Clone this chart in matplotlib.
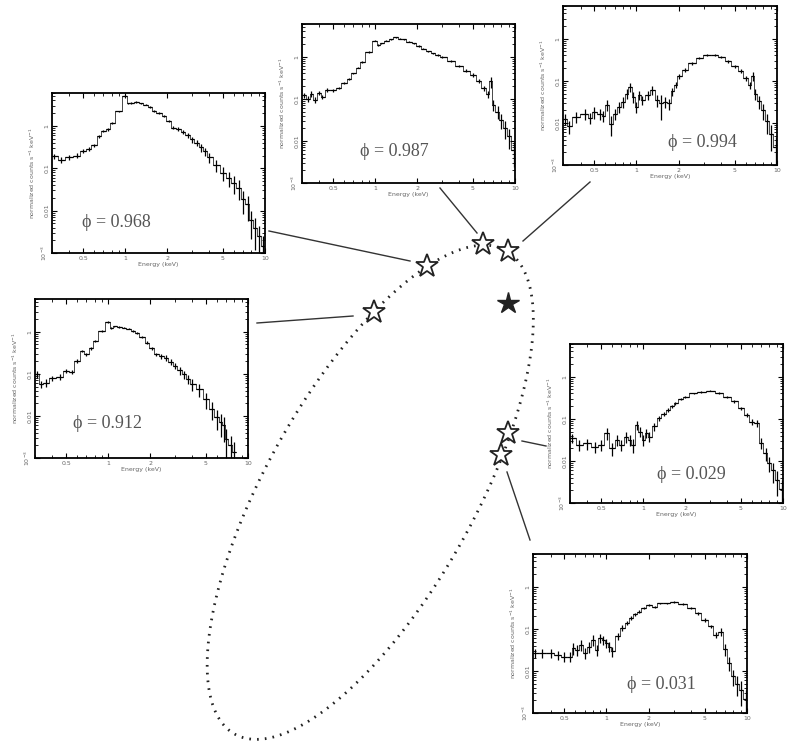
import numpy as np
import matplotlib.pyplot as plt
from matplotlib.ticker import NullFormatter

# orbital phases shown in the insets
phases = ['0.968', '0.987', '0.994', '0.912', '0.029', '0.031']

# star positions on the orbit sketch (pixel frame of the figure)
star_x = [427, 483, 508, 374, 508, 501]
star_y = [266, 244, 251, 312, 433, 455]
companion_x = [508]
companion_y = [303]

# points traced along the dotted orbit
orbit_x = [280, 257, 233, 218, 210, 207, 210, 223, 253, 300, 340, 377, 390, 437, 463, 487, 520,
           527, 532, 532, 528, 522, 350, 390]
orbit_y = [440, 490, 540, 590, 627, 667, 700, 723, 738, 730, 697, 660, 643, 577, 547, 500, 400,
           367, 333, 300, 287, 263, 340, 293]

# connector lines: star end -> inset end
link_x0 = [410, 477, 523, 353, 522, 507]
link_y0 = [261, 233, 241, 316, 441, 472]
link_x1 = [269, 440, 590, 257, 546, 530]
link_y1 = [231, 188, 182, 323, 446, 540]

# spectra, phase 0.968
e_968 = [0.31, 0.35, 0.4, 0.45, 0.5, 0.55, 0.6, 0.65, 0.7, 0.75, 0.8, 0.9, 1.0, 1.05, 1.1, 1.2, 1.3,
         1.4, 1.5, 1.6, 1.75, 1.9, 2.05, 2.2, 2.4, 2.6, 2.8, 3.0, 3.25, 3.5, 3.75, 4.0, 4.5, 5.0,
         5.5, 6.0, 6.5, 7.0, 7.5, 8.0, 8.5, 9.0, 9.7]
f_968 = [0.19, 0.16, 0.18, 0.2, 0.26, 0.29, 0.35, 0.58, 0.75, 0.83, 1.2, 2.2, 5.2, 3.4, 3.5, 3.7, 3.4,
         3.2, 2.8, 2.3, 2.0, 1.7, 1.3, 0.91, 0.85, 0.72, 0.6, 0.48, 0.4, 0.31, 0.25, 0.18, 0.12, 0.079,
         0.06, 0.046, 0.035, 0.019, 0.014, 0.006, 0.004, 0.0025, 0.0015]
r_968 = [0.15, 0.15, 0.12, 0.12, 0.1, 0.1, 0.1, 0.08, 0.06, 0.06, 0.05, 0.04, 0.04, 0.04, 0.04, 0.04, 0.04,
         0.04, 0.05, 0.05, 0.05, 0.06, 0.07, 0.08, 0.1, 0.12, 0.14, 0.16, 0.18, 0.2, 0.22, 0.25, 0.3, 0.35,
         0.4, 0.45, 0.5, 0.55, 0.6, 0.65, 0.7, 0.7, 0.7]

# spectra, phase 0.987
e_987 = [0.31, 0.33, 0.35, 0.37, 0.4, 0.42, 0.45, 0.5, 0.55, 0.6, 0.65, 0.7, 0.75, 0.8, 0.9, 1.0, 1.05,
         1.1, 1.2, 1.3, 1.4, 1.5, 1.6, 1.75, 1.9, 2.05, 2.2, 2.4, 2.6, 2.8, 3.0, 3.5, 4.0, 4.5, 5.0,
         5.5, 6.0, 6.4, 6.7, 7.0, 7.5, 8.0, 8.5, 9.0, 9.8]
f_987 = [0.12, 0.1, 0.13, 0.095, 0.14, 0.11, 0.16, 0.16, 0.18, 0.235, 0.3, 0.4, 0.55, 0.76, 1.3, 2.4, 1.9,
         2.1, 2.4, 2.6, 2.9, 2.7, 2.6, 2.3, 2.1, 1.8, 1.57, 1.35, 1.2, 1.1, 1.0, 0.8, 0.6, 0.47, 0.37,
         0.27, 0.18, 0.13, 0.26, 0.072, 0.05, 0.032, 0.02, 0.013, 0.006]
r_987 = [0.15, 0.15, 0.15, 0.15, 0.12, 0.12, 0.1, 0.08, 0.07, 0.06, 0.05, 0.05, 0.04, 0.04, 0.03, 0.03, 0.03,
         0.03, 0.03, 0.03, 0.03, 0.03, 0.03, 0.03, 0.03, 0.03, 0.04, 0.04, 0.04, 0.05, 0.05, 0.06, 0.07, 0.09,
         0.1, 0.12, 0.15, 0.2, 0.3, 0.3, 0.35, 0.4, 0.45, 0.5, 0.6]

# spectra, phase 0.994
e_994 = [0.31, 0.33, 0.37, 0.43, 0.47, 0.5, 0.55, 0.58, 0.62, 0.66, 0.7, 0.75, 0.8, 0.85, 0.9, 0.95,
         1.0, 1.05, 1.1, 1.2, 1.3, 1.4, 1.5, 1.6, 1.7, 1.8, 1.9, 2.0, 2.2, 2.5, 2.8, 3.2, 3.6, 4.0,
         4.5, 5.0, 5.5, 6.0, 6.4, 6.7, 7.0, 7.5, 8.0, 8.5, 9.0, 9.8]
f_994 = [0.0126, 0.0083, 0.014, 0.0167, 0.0134, 0.018, 0.0167, 0.015, 0.027, 0.0096, 0.0167, 0.024, 0.032,
         0.05, 0.073, 0.042, 0.024, 0.046, 0.035, 0.046, 0.061, 0.035, 0.029, 0.032, 0.029, 0.056, 0.08,
         0.127, 0.18, 0.265, 0.35, 0.42, 0.42, 0.37, 0.29, 0.22, 0.17, 0.116, 0.08, 0.13, 0.05, 0.033,
         0.02, 0.011, 0.0055, 0.0027]
r_994 = [0.3, 0.35, 0.3, 0.3, 0.3, 0.3, 0.3, 0.3, 0.3, 0.5, 0.3, 0.3, 0.3, 0.25, 0.25, 0.3, 0.3, 0.25,
         0.25, 0.25, 0.25, 0.3, 0.6, 0.3, 0.3, 0.2, 0.15, 0.12, 0.1, 0.08, 0.07, 0.06, 0.06, 0.07, 0.08,
         0.1, 0.12, 0.15, 0.2, 0.25, 0.3, 0.35, 0.4, 0.5, 0.6, 0.7]

# spectra, phase 0.912
e_912 = [0.31, 0.33, 0.36, 0.4, 0.45, 0.5, 0.55, 0.6, 0.65, 0.7, 0.75, 0.8, 0.9, 1.0, 1.05, 1.1, 1.2,
         1.3, 1.4, 1.5, 1.6, 1.75, 1.9, 2.05, 2.2, 2.4, 2.6, 2.8, 3.0, 3.25, 3.5, 3.75, 4.0, 4.5, 5.0,
         5.5, 6.0, 6.4, 6.7, 7.0, 7.5, 8.0]
f_912 = [0.098, 0.057, 0.062, 0.078, 0.086, 0.118, 0.11, 0.2, 0.35, 0.29, 0.4, 0.6, 1.04, 1.7, 1.24, 1.35,
         1.31, 1.25, 1.18, 1.05, 0.95, 0.75, 0.55, 0.4, 0.29, 0.26, 0.24, 0.19, 0.155, 0.12, 0.098, 0.075,
         0.057, 0.043, 0.025, 0.0145, 0.0093, 0.007, 0.006, 0.0029, 0.002, 0.0014]
r_912 = [0.2, 0.2, 0.2, 0.15, 0.15, 0.12, 0.12, 0.1, 0.08, 0.07, 0.06, 0.05, 0.04, 0.04, 0.04, 0.04, 0.04,
         0.04, 0.04, 0.05, 0.05, 0.06, 0.07, 0.09, 0.1, 0.12, 0.14, 0.16, 0.18, 0.2, 0.22, 0.25, 0.3, 0.35,
         0.4, 0.45, 0.5, 0.55, 0.6, 0.65, 0.7, 0.7]

# spectra, phase 0.029
e_029 = [0.31, 0.35, 0.4, 0.45, 0.5, 0.55, 0.6, 0.65, 0.7, 0.75, 0.8, 0.85, 0.9, 0.95, 1.0, 1.05,
         1.1, 1.2, 1.3, 1.4, 1.5, 1.6, 1.7, 1.85, 2.0, 2.3, 2.6, 3.0, 3.5, 4.0, 4.5, 5.0, 5.5, 6.0,
         6.5, 7.0, 7.5, 8.0, 8.5, 9.0, 9.8]
f_029 = [0.035, 0.024, 0.026, 0.022, 0.024, 0.046, 0.02, 0.032, 0.024, 0.038, 0.032, 0.024, 0.072, 0.05,
         0.032, 0.046, 0.038, 0.066, 0.104, 0.13, 0.163, 0.2, 0.235, 0.3, 0.337, 0.4, 0.44, 0.47, 0.42,
         0.337, 0.26, 0.18, 0.124, 0.086, 0.079, 0.027, 0.0154, 0.009, 0.006, 0.0036, 0.0021]
r_029 = [0.25, 0.3, 0.3, 0.3, 0.3, 0.3, 0.35, 0.3, 0.3, 0.3, 0.3, 0.35, 0.25, 0.25, 0.3, 0.25, 0.25,
         0.2, 0.15, 0.12, 0.1, 0.08, 0.07, 0.06, 0.06, 0.05, 0.05, 0.05, 0.05, 0.06, 0.07, 0.09, 0.1,
         0.15, 0.2, 0.3, 0.35, 0.4, 0.5, 0.6, 0.7]

# spectra, phase 0.031
e_031 = [0.31, 0.35, 0.4, 0.45, 0.5, 0.55, 0.58, 0.62, 0.66, 0.7, 0.75, 0.8, 0.85, 0.9, 0.95, 1.0,
         1.05, 1.1, 1.2, 1.3, 1.4, 1.5, 1.6, 1.7, 1.85, 2.0, 2.2, 2.4, 2.7, 3.0, 3.5, 4.0, 4.5, 5.0,
         5.5, 6.0, 6.5, 7.0, 7.5, 8.0, 8.5, 9.0, 9.8]
f_031 = [0.027, 0.027, 0.027, 0.024, 0.022, 0.022, 0.035, 0.032, 0.042, 0.027, 0.038, 0.055, 0.032, 0.06,
         0.055, 0.046, 0.038, 0.029, 0.067, 0.105, 0.14, 0.18, 0.22, 0.256, 0.32, 0.37, 0.337, 0.4, 0.4,
         0.44, 0.39, 0.31, 0.235, 0.163, 0.115, 0.072, 0.086, 0.033, 0.0155, 0.0074, 0.005, 0.0036, 0.0021]
r_031 = [0.25, 0.25, 0.25, 0.25, 0.25, 0.25, 0.3, 0.3, 0.3, 0.3, 0.3, 0.3, 0.3, 0.25, 0.25, 0.25, 0.25,
         0.25, 0.2, 0.15, 0.12, 0.1, 0.08, 0.07, 0.06, 0.06, 0.05, 0.05, 0.05, 0.05, 0.05, 0.06, 0.07,
         0.09, 0.1, 0.15, 0.2, 0.3, 0.35, 0.4, 0.5, 0.6, 0.7]

spectra = [(e_968, f_968, r_968), (e_987, f_987, r_987), (e_994, f_994, r_994),
           (e_912, f_912, r_912), (e_029, f_029, r_029), (e_031, f_031, r_031)]


def fit_ellipse(x, y):
    # algebraic conic fit on scaled coords, returns a closed curve
    xs = (np.array(x, float) - 400) / 100
    ys = (np.array(y, float) - 500) / 100
    D = np.column_stack([xs**2, xs * ys, ys**2, xs, ys, np.ones_like(xs)])
    A, B, C, Dx, Ey, F = np.linalg.svd(D)[2][-1]
    M = np.array([[A, B / 2], [B / 2, C]])
    c = np.linalg.solve(2 * M, -np.array([Dx, Ey]))
    Fc = A * c[0]**2 + B * c[0] * c[1] + C * c[1]**2 + Dx * c[0] + Ey * c[1] + F
    lam, vec = np.linalg.eigh(M)
    ax_len = np.sqrt(-Fc / lam)
    t = np.linspace(0, 2 * np.pi, 721)
    pts = c[:, None] + vec[:, [0]] * ax_len[0] * np.cos(t) + vec[:, [1]] * ax_len[1] * np.sin(t)
    return pts[0] * 100 + 400, pts[1] * 100 + 500


W, H = 796, 744
fig = plt.figure(figsize=(W / 100, H / 100), dpi=100)

# orbit sketch in pixel coordinates
ax = fig.add_axes([0, 0, 1, 1])
ax.set_xlim(0, W)
ax.set_ylim(H, 0)
ax.axis('off')

ox, oy = fit_ellipse(orbit_x, orbit_y)
ax.plot(ox, oy, color='#222222', lw=2.0, linestyle=(0, (0.6, 2.2)))

for i in range(len(link_x0)):
    ax.plot([link_x0[i], link_x1[i]], [link_y0[i], link_y1[i]], color='#333333', lw=1.0)

ax.plot(star_x, star_y, ls='none', marker='*', ms=17, mfc='white', mec='#222222', mew=1.3)
ax.plot(companion_x, companion_y, ls='none', marker='*', ms=16, mfc='#222222', mec='#222222')

# inset boxes in pixels: left, top, right, bottom
boxes = [(52, 93, 265, 253), (302, 24, 515, 183), (563, 6, 777, 165),
         (35, 299, 248, 458), (570, 344, 783, 503), (533, 554, 747, 713)]
label_pos = [(0.14, 0.19), (0.27, 0.195), (0.49, 0.14), (0.18, 0.22), (0.41, 0.18), (0.44, 0.18)]

for k, (l, t, r, b) in enumerate(boxes):
    ia = fig.add_axes([l / W, 1 - b / H, (r - l) / W, (b - t) / H])
    e, f, rel = (np.array(v) for v in spectra[k])
    edges = np.sqrt(e[:-1] * e[1:])
    lo = np.concatenate([[e[0] * 0.97], edges])
    hi = np.concatenate([edges, [min(e[-1] * 1.03, 10.0)]])
    yerr = f * rel
    ylo = np.minimum(yerr, f * 0.9)
    ia.step(np.concatenate([lo, [hi[-1]]]), np.concatenate([f, [f[-1]]]), where='post',
            color='black', lw=0.5)
    ia.errorbar(e, f, xerr=[e - lo, hi - e], yerr=[ylo, yerr], fmt='none',
                ecolor='black', elinewidth=0.9, capsize=0)
    ia.set_xscale('log')
    ia.set_yscale('log')
    ia.set_xlim(0.3, 10)
    ia.set_ylim(1e-3, 6)
    ia.set_xticks([0.5, 1, 2, 5, 10])
    ia.set_xticklabels(['0.5', '1', '2', '5', '10'])
    ia.xaxis.set_minor_formatter(NullFormatter())
    ia.set_yticks([1e-3, 0.01, 0.1, 1])
    ia.set_yticklabels(['10$^{-3}$', '0.01', '0.1', '1'], rotation=90, va='center')
    ia.yaxis.set_minor_formatter(NullFormatter())
    ia.tick_params(which='both', direction='in', top=True, right=True, labelsize=4.5,
                   labelcolor='#666666', pad=2)
    ia.tick_params(which='major', length=3.5, width=0.8)
    ia.tick_params(which='minor', length=2, width=0.6)
    for s in ia.spines.values():
        s.set_linewidth(1.3)
    ia.set_xlabel('Energy (keV)', fontsize=4.5, color='#666666', labelpad=1)
    ia.set_ylabel('normalized counts s$^{-1}$ keV$^{-1}$', fontsize=4.5, color='#666666', labelpad=2)
    ia.text(label_pos[k][0], label_pos[k][1], '\u03d5 = ' + phases[k], transform=ia.transAxes,
            fontsize=13, family=['Liberation Serif', 'DejaVu Serif'], color='#555555', va='center')

fig.savefig('out.png', dpi=100)
